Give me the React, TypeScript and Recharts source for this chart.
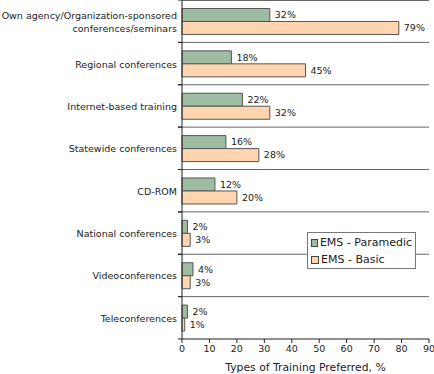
import React from 'react'
import { Bar, BarChart, CartesianGrid, LabelList, XAxis, YAxis } from 'recharts'

const categories = [
  'Own agency/Organization-sponsored\nconferences/seminars',
  'Regional conferences',
  'Internet-based training',
  'Statewide conferences',
  'CD-ROM',
  'National conferences',
  'Videoconferences',
  'Teleconferences',
]
const paramedic = [32, 18, 22, 16, 12, 2, 4, 2]
const basic = [79, 45, 32, 28, 20, 3, 3, 1]
const xTicks = [0, 10, 20, 30, 40, 50, 60, 70, 80, 90]

const seriesNames = ['EMS - Paramedic', 'EMS - Basic']
const colors = ['#9dbca1', '#ffd5b0']

const W = 434
const H = 374
const X_AXIS_H = 35
const Y_AXIS_W = 182
const PLOT_H = H - X_AXIS_H
const FONT = '"DejaVu Sans", Verdana, sans-serif'
const FS = 9.5

const data = categories.map((name, i) => ({ name, paramedic: paramedic[i], basic: basic[i] }))

// tick marks sit on the band edges, labels stay centred on the band
const CategoryTick = ({ x, y, payload }: { x: number; y: number; payload: { value: string } }) => {
  const lines = String(payload.value).split('\n')
  const half = PLOT_H / categories.length / 2
  const lh = 13
  const startY = y - ((lines.length - 1) * lh) / 2
  return (
    <g>
      <line x1={x + 4} x2={x + 8} y1={y - half} y2={y - half} stroke="#222" />
      <line x1={x + 4} x2={x + 8} y1={y + half} y2={y + half} stroke="#222" />
      <text x={x + 3} y={startY} textAnchor="end" dominantBaseline="central" fontSize={FS} fill="#222" fontFamily={FONT}>
        {lines.map((l, i) => (
          <tspan key={i} x={x + 3} y={startY + i * lh}>
            {l}
          </tspan>
        ))}
      </text>
    </g>
  )
}

const LegendBox = () => (
  <div
    style={{
      position: 'absolute',
      left: 307,
      top: 232,
      width: 109,
      height: 37,
      boxSizing: 'border-box',
      border: '1px solid #777',
      background: '#fff',
      padding: '1px 3px',
      fontFamily: FONT,
      fontSize: 11,
      color: '#222',
      lineHeight: '17px',
    }}
  >
    {seriesNames.map((s, i) => (
      <div key={s} style={{ display: 'flex', alignItems: 'center', whiteSpace: 'nowrap' }}>
        <span
          style={{
            display: 'inline-block',
            width: 6,
            height: 6,
            background: colors[i],
            border: '1px solid #444',
            marginRight: 2,
          }}
        />
        {s}
      </div>
    ))}
  </div>
)

export default function App() {
  return (
    <div style={{ position: 'absolute', left: 0, top: 0, width: W, height: H, background: '#fff' }}>
      <BarChart
        width={W}
        height={H}
        data={data}
        layout="vertical"
        margin={{ top: 0, right: 5, bottom: 0, left: 0 }}
        barCategoryGap="20%"
        barGap={0}
      >
        <CartesianGrid
          vertical={false}
          stroke="#666"
          horizontalCoordinatesGenerator={({ offset }: any) =>
            categories.map((_, i) => offset.top + (offset.height * i) / categories.length).concat(offset.top + 0.5)
          }
        />
        <XAxis
          type="number"
          domain={[0, 90]}
          ticks={xTicks}
          height={X_AXIS_H}
          stroke="#222"
          tickSize={4}
          tick={{ fontSize: FS, fill: '#222', fontFamily: FONT }}
          label={{
            value: 'Types of Training Preferred, %',
            position: 'insideBottom',
            offset: 3,
            fontSize: 10.8,
            fill: '#222',
            fontFamily: FONT,
          }}
        />
        <YAxis
          type="category"
          dataKey="name"
          width={Y_AXIS_W}
          stroke="#222"
          tickLine={false}
          tick={CategoryTick as any}
          interval={0}
        />
        <YAxis yAxisId="right" orientation="right" type="category" dataKey="name" width={0} stroke="#222" tick={false} tickLine={false} />
        <Bar dataKey="paramedic" name={seriesNames[0]} fill={colors[0]} stroke="#555" isAnimationActive={false}>
          <LabelList dataKey="paramedic" position="right" offset={5} formatter={(v: any) => `${v}%`} fontSize={FS} fill="#222" fontFamily={FONT} />
        </Bar>
        <Bar dataKey="basic" name={seriesNames[1]} fill={colors[1]} stroke="#555" isAnimationActive={false}>
          <LabelList dataKey="basic" position="right" offset={5} formatter={(v: any) => `${v}%`} fontSize={FS} fill="#222" fontFamily={FONT} />
        </Bar>
      </BarChart>
      <LegendBox />
    </div>
  )
}
